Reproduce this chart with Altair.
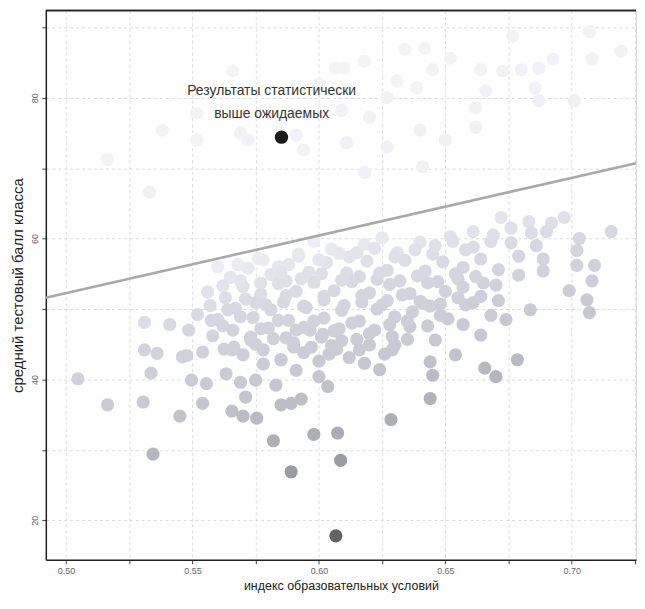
import altair as alt
import pandas as pd

# ---- data ----
# isolated classes below the line
below_x = [0.5047, 0.5164, 0.5305, 0.5336, 0.536, 0.5344, 0.545, 0.5477, 0.554, 0.5496, 0.5555, 0.554,
           0.5633, 0.5656, 0.570, 0.569, 0.571, 0.575, 0.5754, 0.582, 0.583, 0.585, 0.589, 0.593, 0.589,
           0.591, 0.598, 0.6067, 0.6074, 0.6086, 0.6285, 0.644, 0.644, 0.646, 0.648, 0.654, 0.6656, 0.670,
           0.664, 0.668, 0.674, 0.6785, 0.6836, 0.671, 0.699, 0.706, 0.707, 0.709, 0.702, 0.708, 0.6887,
           0.6887, 0.679, 0.665, 0.657, 0.661, 0.635, 0.629, 0.624, 0.645, 0.578, 0.585, 0.5965, 0.6016,
           0.604, 0.600, 0.6035, 0.607, 0.5664, 0.5625, 0.573, 0.541, 0.531, 0.5485, 0.5574, 0.7156, 0.703,
           0.702, 0.531, 0.546, 0.5656]
below_y = [40.1, 36.4, 36.8, 40.9, 43.7, 29.4, 34.8, 43.4, 43.9, 39.9, 39.4, 36.6,
           40.8, 35.5, 34.8, 39.6, 37.5, 39.9, 34.5, 31.3, 39.2, 36.4, 36.6, 37.2, 26.9,
           41.3, 32.2, 17.8, 32.4, 28.5, 34.3, 37.3, 42.5, 45.6, 49.1, 43.5, 41.6, 40.4,
           46.3, 49.1, 48.5, 42.8, 49.9, 51.2, 52.6, 51.3, 49.5, 56.2, 56.2, 54.0, 57.1,
           55.4, 54.8, 53.7, 47.8, 50.9, 45.7, 44.2, 41.4, 40.6, 42.2, 42.8, 47.0, 46.4,
           43.6, 40.4, 39.0, 44.3, 44.6, 44.3, 46.0, 47.8, 48.1, 47.0, 48.4, 61.0, 60.0,
           58.3, 44.2, 43.2, 44.2]

# dense cloud of classes
cloud_x = [0.578, 0.592, 0.605, 0.618, 0.631, 0.640, 0.652, 0.661, 0.668, 0.676, 0.683, 0.690, 0.697,
           0.612, 0.645, 0.625, 0.672, 0.658, 0.686, 0.598,
           0.565, 0.572, 0.581, 0.588, 0.596, 0.603, 0.611, 0.619, 0.627, 0.634, 0.642, 0.649, 0.657,
           0.664, 0.671, 0.679, 0.587, 0.623, 0.655, 0.560,
           0.556, 0.563, 0.570, 0.577, 0.584, 0.591, 0.598, 0.606, 0.613, 0.620, 0.628, 0.636, 0.643,
           0.650, 0.657, 0.664, 0.602, 0.640, 0.575, 0.617,
           0.552, 0.560, 0.567, 0.574, 0.581, 0.588, 0.595, 0.602, 0.609, 0.616, 0.623, 0.630, 0.637,
           0.644, 0.651, 0.658, 0.586, 0.627,
           0.558, 0.566, 0.573, 0.580, 0.587, 0.594, 0.601, 0.608, 0.615, 0.622, 0.629, 0.636, 0.620,
           0.590, 0.605,
           0.570, 0.578, 0.585, 0.594, 0.612, 0.618, 0.626, 0.600]
cloud_y = [57.0, 57.8, 58.5, 59.2, 58.0, 59.5, 60.3, 61.0, 59.6, 61.5, 62.4, 61.0, 63.0,
           57.4, 57.8, 60.1, 63.0, 58.4, 59.0, 59.6,
           54.5, 55.8, 54.9, 56.3, 55.2, 56.6, 55.1, 56.8, 55.5, 56.9, 55.4, 56.7, 55.9,
           57.1, 55.6, 57.5, 54.0, 54.2, 54.3, 56.0,
           52.4, 51.6, 53.2, 52.1, 53.6, 52.5, 53.8, 52.6, 53.9, 52.3, 53.5, 52.2, 53.7,
           52.5, 53.1, 51.8, 51.3, 51.1, 50.9, 51.0,
           49.2, 48.5, 50.1, 48.8, 49.9, 48.4, 50.2, 48.7, 49.8, 48.3, 50.0, 48.9, 49.6,
           50.4, 48.6, 50.6, 51.0, 51.2,
           46.2, 47.0, 45.6, 47.3, 45.9, 47.4, 46.0, 47.2, 45.7, 47.0, 46.1, 47.5, 44.9,
           44.6, 44.8,
           43.5, 44.2, 42.8, 43.8, 43.1, 42.3, 43.6, 42.6]

# more classes filling the cloud
cloud2_x = [0.568, 0.576, 0.584, 0.592, 0.600, 0.608, 0.615, 0.622, 0.630, 0.638, 0.646, 0.653, 0.661,
            0.669, 0.676, 0.684, 0.692,
            0.562, 0.569, 0.577, 0.585, 0.593, 0.601, 0.609, 0.616, 0.624, 0.632, 0.639, 0.647, 0.654,
            0.662, 0.670,
            0.557, 0.564, 0.571, 0.579, 0.587, 0.594, 0.602, 0.610, 0.617, 0.625, 0.633, 0.641, 0.648,
            0.655,
            0.562, 0.569, 0.577, 0.584, 0.591, 0.598, 0.606, 0.613, 0.620, 0.628, 0.635, 0.643,
            0.575, 0.582, 0.590, 0.597, 0.609, 0.616, 0.630]
cloud2_y = [56.3, 57.2, 56.0, 57.5, 57.0, 57.9, 58.0, 58.6, 57.4, 58.4, 59.0, 59.6, 58.8,
            60.5, 59.4, 60.8, 62.2,
            53.3, 54.0, 53.7, 55.2, 54.3, 55.0, 54.1, 54.6, 55.1, 54.0, 54.7, 53.9, 55.0,
            54.6, 53.4,
            50.5, 49.9, 51.4, 50.6, 51.9, 50.4, 51.8, 50.5, 51.9, 50.6, 52.0, 50.8, 50.7,
            51.6,
            47.6, 48.9, 47.2, 48.4, 47.0, 48.3, 46.9, 48.0, 46.5, 47.8, 48.3, 47.6,
            45.0, 45.8, 45.2, 44.6, 45.5, 44.2, 44.9]

# faint classes above the line
above_x = [0.566, 0.5516, 0.538, 0.569, 0.5164, 0.5516, 0.533, 0.600, 0.6066, 0.634, 0.6418, 0.618,
           0.610, 0.645, 0.652, 0.664, 0.6727, 0.680, 0.687, 0.6926, 0.708, 0.7195, 0.6766, 0.6309,
           0.6387, 0.627, 0.666, 0.6855, 0.687, 0.662, 0.609, 0.620, 0.640, 0.662, 0.701, 0.611,
           0.627, 0.650, 0.641, 0.618, 0.591, 0.594, 0.572, 0.707]
above_y = [83.8, 77.8, 75.4, 75.0, 71.2, 74.0, 66.6, 82.0, 84.2, 86.9, 87.0, 85.2,
           84.2, 84.0, 85.6, 84.0, 83.8, 84.0, 84.2, 85.5, 85.5, 86.6, 88.7, 82.4,
           81.4, 80.0, 81.0, 81.4, 79.6, 78.6, 78.2, 77.2, 75.4, 75.8, 79.6, 73.6,
           73.0, 74.0, 70.2, 69.4, 74.7, 72.6, 74.0, 89.4]

# highlighted class and its note
hi_x = [0.5852]
hi_y = [74.4]
note_x = [0.5813]
note_y = [80.9]
note_lines = ["Результаты статистически", "выше ожидаемых"]

# expectation line end points
line_x = [0.492, 0.7254]
line_y = [51.6, 70.7]

x_ticks = [0.500, 0.525, 0.550, 0.575, 0.600, 0.625, 0.650, 0.675, 0.700, 0.725]
y_ticks = [20, 30, 40, 50, 60, 70, 80, 90]

X_DOMAIN = [0.492, 0.7254]
Y_DOMAIN = [14.4, 92.4]
W, H = 593, 552

pts = pd.DataFrame({
    "x": below_x + cloud_x + cloud2_x + above_x,
    "y": below_y + cloud_y + cloud2_y + above_y,
})
hi = pd.DataFrame({"x": hi_x, "y": hi_y})
note = pd.DataFrame({"x": note_x, "y": note_y, "t": [note_lines]})
ln = pd.DataFrame({"x": line_x, "y": line_y})

FONT = "Liberation Sans"

xscale = alt.Scale(domain=X_DOMAIN, nice=False, zero=False)
yscale = alt.Scale(domain=Y_DOMAIN, nice=False, zero=False)

xaxis = alt.Axis(
    title="индекс образовательных условий", values=x_ticks,
    labelExpr="round(datum.value*1000) % 50 == 0 ? format(datum.value, '.2f') : ''",
    grid=True, gridDash=[3, 3], gridColor="#d2d2d2", gridWidth=0.8,
    domainColor="#222222", domainWidth=1.5, tickColor="#444444", tickSize=4,
    labelFontSize=9, labelColor="#666666", labelPadding=3, labelFont=FONT,
    titleFontSize=12.5, titleColor="#222222", titleFont=FONT, titleFontWeight="normal",
    titlePadding=4,
)
yaxis = alt.Axis(
    title="средний тестовый балл класса", values=y_ticks,
    labelExpr="datum.value % 20 == 0 ? datum.label : ''",
    grid=True, gridDash=[3, 3], gridColor="#d2d2d2", gridWidth=0.8,
    domainColor="#222222", domainWidth=1.5, tickColor="#444444", tickSize=4,
    labelFontSize=9, labelColor="#666666", labelPadding=2, labelFont=FONT,
    labelAngle=270, labelAlign="center", labelBaseline="bottom",
    titleFontSize=15, titleColor="#222222", titleFont=FONT, titleFontWeight="normal",
    titlePadding=5,
)

points = alt.Chart(pts).transform_calculate(
    dist="51.6 + 81.8*(datum.x - 0.492) - datum.y"
).mark_circle(size=175, opacity=1).encode(
    x=alt.X("x:Q", scale=xscale, axis=xaxis),
    y=alt.Y("y:Q", scale=yscale, axis=yaxis),
    color=alt.Color(
        "dist:Q", legend=None,
        scale=alt.Scale(domain=[-35, 0, 8, 20, 30, 45],
                        range=["#f6f6f8", "#efeff4", "#d8d8e3", "#c6c6d0", "#a8a8b0", "#5a5a5e"]),
    ),
)

line = alt.Chart(ln).mark_line(color="#a9a9a9", strokeWidth=2.6, clip=True).encode(
    x=alt.X("x:Q", scale=xscale), y=alt.Y("y:Q", scale=yscale)
)

highlight = alt.Chart(hi).mark_circle(size=180, color="#1a1a1a", opacity=1).encode(
    x=alt.X("x:Q", scale=xscale), y=alt.Y("y:Q", scale=yscale)
)

text = alt.Chart(note).mark_text(
    align="center", baseline="middle", fontSize=14, lineHeight=23, font=FONT, color="#333333"
).encode(
    x=alt.X("x:Q", scale=xscale), y=alt.Y("y:Q", scale=yscale), text="t"
)

top_border = alt.Chart(ln).mark_rule(color="#222222", strokeWidth=1.5).encode(
    x=alt.value(0), x2=alt.value(W), y=alt.value(0)
)

chart = alt.layer(points, line, highlight, text, top_border).properties(
    width=W, height=H, padding={"left": 3, "top": 0, "right": 0, "bottom": 0}
).configure_view(stroke=None).configure(background="white")

chart.save("out.html", embed_options={"renderer": "svg", "actions": False})
